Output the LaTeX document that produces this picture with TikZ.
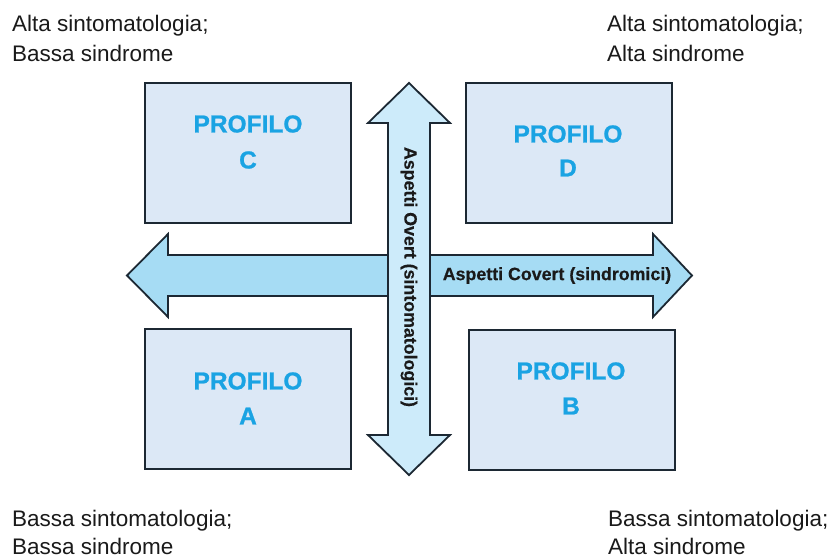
\documentclass[tikz,border=0pt]{standalone}
\usepackage{fontspec}
\setmainfont{Liberation Sans}
\newfontface\heavyfont{Liberation Sans Bold}[FakeBold=0.9]
\newfontface\axisfont{Liberation Sans Bold}[FakeBold=0.4]
\definecolor{boxfill}{HTML}{DCE8F6}
\definecolor{hfill}{HTML}{A6DCF4}
\definecolor{vfill}{HTML}{CDEBFA}
\definecolor{edge}{HTML}{1C2833}
\definecolor{prof}{HTML}{1AA3E3}
\definecolor{txt}{HTML}{1A1A1A}
\begin{document}
\begin{tikzpicture}[x=1pt,y=-1pt,
  profbox/.style={draw=edge,line width=1.8pt,fill=boxfill,minimum width=206pt,minimum height=140pt,inner sep=0pt},
  arrowshape/.style={draw=edge,line width=1.8pt,line join=miter},
  proftext/.style={text=prof,font=\fontsize{24.5}{28}\heavyfont,inner sep=0pt},
  axistext/.style={text=txt,font=\fontsize{17.8}{20}\axisfont,inner sep=0pt},
  cornertext/.style={text=txt,font=\fontsize{22.5}{28}\selectfont,inner sep=0pt,anchor=base west}]
\useasboundingbox (0,0) rectangle (830,559);
\fill[white] (0,0) rectangle (830,559);
% boxes
\node[profbox] (boxC) at (248,153) {};
\node[profbox] (boxD) at (569,153) {};
\node[profbox] (boxA) at (248,399) {};
\node[profbox] (boxB) at (572,400) {};
% horizontal arrow
\draw[arrowshape,fill=hfill] (127,275.5) -- (168,234) -- (168,255) -- (653,255) -- (653,234) -- (692,275.5) -- (653,317) -- (653,296) -- (168,296) -- (168,317) -- cycle;
% vertical arrow
\draw[arrowshape,fill=vfill] (409,83) -- (450,123) -- (430,123) -- (430,435) -- (450,435) -- (409,475) -- (368,435) -- (388,435) -- (388,123) -- (368,123) -- cycle;
% labels
\node[axistext] (hlab) at (557,275.5) {Aspetti Covert (sindromici)};
\node[axistext,rotate=-90] (vlab) at (409,277) {Aspetti Overt (sintomatologici)};
\node[proftext] (c1) at (248,124) {PROFILO};
\node[proftext] (c2) at (248,160) {C};
\node[proftext] (d1) at (568,134) {PROFILO};
\node[proftext] (d2) at (568,168) {D};
\node[proftext] (a1) at (248,381) {PROFILO};
\node[proftext] (a2) at (248,416) {A};
\node[proftext] (b1) at (571,371) {PROFILO};
\node[proftext] (b2) at (571,406) {B};
% corner texts
\node[cornertext] (tl1) at (12,32) {Alta sintomatologia;};
\node[cornertext] (tl2) at (12,62) {Bassa sindrome};
\node[cornertext] (tr1) at (607,32) {Alta sintomatologia;};
\node[cornertext] (tr2) at (607,62) {Alta sindrome};
\node[cornertext] (bl1) at (12,526) {Bassa sintomatologia;};
\node[cornertext] (bl2) at (12,554) {Bassa sindrome};
\node[cornertext] (br1) at (608,526) {Bassa sintomatologia;};
\node[cornertext] (br2) at (608,554) {Alta sindrome};
\end{tikzpicture}
\end{document}
